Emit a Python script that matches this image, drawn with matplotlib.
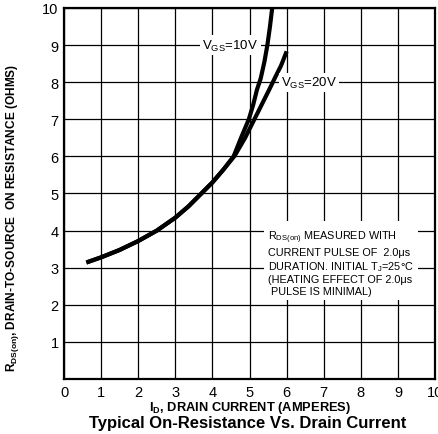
import matplotlib
matplotlib.use("Agg")
import matplotlib.pyplot as plt

plt.rcParams['font.family'] = ['Liberation Sans', 'DejaVu Sans']
plt.rcParams['mathtext.fontset'] = 'custom'
plt.rcParams['mathtext.rm'] = 'Liberation Sans'
plt.rcParams['mathtext.bf'] = 'Liberation Sans:bold'

# curves
id_10v = [0.6, 1.0, 1.5, 2.0, 2.5, 3.0, 3.35, 3.66, 4.0, 4.3, 4.57, 4.77,
          4.98, 5.1, 5.2, 5.3, 5.4, 5.48, 5.55, 5.61]
r_10v = [3.14, 3.28, 3.48, 3.72, 4.0, 4.35, 4.65, 4.96, 5.3, 5.65, 6.0, 6.5,
         7.0, 7.4, 7.8, 8.1, 8.55, 9.0, 9.5, 10.0]
id_20v = [0.6, 1.0, 1.5, 2.0, 2.5, 3.0, 3.35, 3.66, 4.0, 4.3, 4.6, 4.88,
          5.13, 5.33, 5.53, 5.7, 5.85, 6.0]
r_20v = [3.14, 3.28, 3.48, 3.72, 4.0, 4.35, 4.65, 4.96, 5.3, 5.65, 6.02, 6.5,
         7.0, 7.4, 7.8, 8.15, 8.45, 8.83]

x_ticks = list(range(0, 11))
y_ticks = list(range(1, 11))

fig = plt.figure(figsize=(4.39, 4.35), dpi=100)
ax = fig.add_axes([0.146, 0.1264, 0.845, 0.853])

ax.set_xlim(0, 10)
ax.set_ylim(0, 10)
ax.set_xticks(x_ticks)
ax.set_yticks(y_ticks)
ax.tick_params(length=0, labelsize=10.5, pad=4)
ax.grid(True, color='black', lw=0.9)
ax.set_axisbelow(True)
for s in ax.spines.values():
    s.set_linewidth(1.6)

ax.plot(id_10v, r_10v, color='black', lw=3, solid_capstyle='butt')
ax.plot(id_20v, r_20v, color='black', lw=3, solid_capstyle='butt')

box = dict(facecolor='white', edgecolor='none', pad=1.5)
ax.text(3.73, 9.0, r'V$_{\rm GS}$=10V', fontsize=9.5, va='center', ha='left', bbox=box)
ax.text(5.85, 8.0, r'V$_{\rm GS}$=20V', fontsize=9.5, va='center', ha='left', bbox=box)

note = ('R$_{\\rm DS(on)}$ MEASURED WITH\n'
        'CURRENT PULSE OF  2.0μs\n'
        'DURATION. INITIAL T$_{\\rm J}$=25°C\n'
        '(HEATING EFFECT OF 2.0μs\n'
        ' PULSE IS MINIMAL)')
ax.text(5.5, 4.05, note, fontsize=7.8, va='top', ha='left', linespacing=1.2,
        bbox=dict(facecolor='white', edgecolor='none', pad=3))

fig.text(0.028, 0.5, r'R$_{\mathbf{DS(on)}}$, DRAIN-TO-SOURCE  ON RESISTANCE (OHMS)',
         fontsize=8.6, fontweight='bold', rotation=90, ha='center', va='center')
fig.text(0.57, 0.062, r'I$_{\mathbf{D}}$, DRAIN CURRENT (AMPERES)', fontsize=9.3,
         fontweight='bold', ha='center', va='center')
fig.text(0.565, 0.027, 'Typical On-Resistance Vs. Drain Current', fontsize=12,
         fontweight='bold', ha='center', va='center')

fig.savefig('out.png', dpi=100)
